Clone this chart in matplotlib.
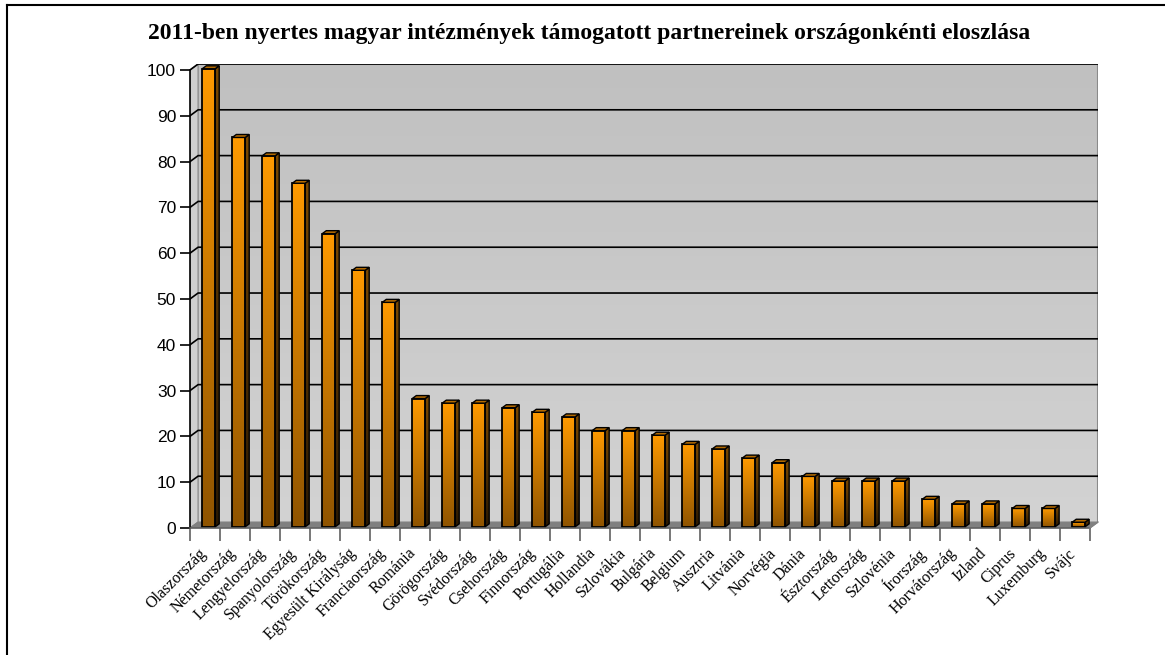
import matplotlib
matplotlib.use("Agg")
import matplotlib.pyplot as plt
import numpy as np
from matplotlib.patches import Polygon, Rectangle
from matplotlib.lines import Line2D
from matplotlib.colors import LinearSegmentedColormap

countries = ["Olaszország", "Németország", "Lengyelország", "Spanyolország", "Törökország",
             "Egyesült Királyság", "Franciaország", "Románia", "Görögország", "Svédország",
             "Csehország", "Finnország", "Portugália", "Hollandia", "Szlovákia", "Bulgária",
             "Belgium", "Ausztria", "Litvánia", "Norvégia", "Dánia", "Észtország", "Lettország",
             "Szlovénia", "Írország", "Horvátország", "Izland", "Ciprus", "Luxemburg", "Svájc"]
values = [100, 85, 81, 75, 64, 56, 49, 28, 27, 27, 26, 25, 24, 21, 21, 20, 18, 17, 15, 14,
          11, 10, 10, 10, 6, 5, 5, 4, 4, 1]
yticks = [0, 10, 20, 30, 40, 50, 60, 70, 80, 90, 100]
title = "2011-ben nyertes magyar intézmények támogatott partnereinek országonkénti eloszlása"

W, H = 1165, 655
fig = plt.figure(figsize=(W / 100, H / 100), dpi=100)
fig.patch.set_facecolor("white")

# figure frame (left and top lines)
fig.add_artist(Line2D([6.5 / W, 6.5 / W], [0, 1 - 5 / H], color="black", lw=1.5))
fig.add_artist(Line2D([6.5 / W, 1], [1 - 5 / H, 1 - 5 / H], color="black", lw=1.5))

n = len(values)
ymax = 100
dx, dy = 0.27, 1.3  # depth offset in data units

left, right, bottom, top = 190, 1098, 528, 64
ax = fig.add_axes([left / W, 1 - bottom / H, (right - left) / W, (bottom - top) / H])
ax.set_xlim(0, n + dx)
ax.set_ylim(0, ymax + dy)
for s in ax.spines.values():
    s.set_visible(False)
ax.set_facecolor("none")

# back wall gradient
grad = np.linspace(0, 1, 256).reshape(-1, 1)
wall_cmap = LinearSegmentedColormap.from_list("wall", ["#d3d3d3", "#c0c0c0"])
ax.imshow(grad, cmap=wall_cmap, origin="lower", aspect="auto",
          extent=[dx, n + dx, dy, ymax + dy], zorder=0)
ax.plot([dx, n + dx, n + dx], [ymax + dy, ymax + dy, dy], color="#8a8a8a", lw=1.5, zorder=1)

# left wall
ax.add_patch(Polygon([(0, 0), (dx, dy), (dx, ymax + dy), (0, ymax)], closed=True,
                     facecolor="#cfcfcf", edgecolor="#808080", lw=0.8, zorder=1))
# floor
ax.add_patch(Polygon([(0, 0), (n, 0), (n + dx, dy), (dx, dy)], closed=True,
                     facecolor="#808080", edgecolor="#808080", lw=0.8, zorder=1))

# gridlines
for v in yticks[1:]:
    ax.plot([0, dx, n + dx], [v, v + dy, v + dy], color="black", lw=1.2, zorder=2)

# bars
front_cmap = LinearSegmentedColormap.from_list("front", ["#8f5400", "#ff9a00"])
side_cmap = LinearSegmentedColormap.from_list("side", ["#2a1800", "#7a4800"])
bw = 0.43
bd = 0.5
f0 = 0.2
for i, v in enumerate(values):
    x0 = i + 0.5 - bw / 2 + 0.07 + f0 * dx
    yb = f0 * dy
    x1 = x0 + bw
    ddx, ddy = bd * dx, bd * dy
    rect = Rectangle((x0, yb), bw, v, facecolor="none", edgecolor="black", lw=1.3, zorder=5)
    ax.add_patch(rect)
    im = ax.imshow(grad, cmap=front_cmap, origin="lower", aspect="auto",
                   extent=[x0, x1, yb, yb + v], zorder=4)
    im.set_clip_path(rect)
    side = Polygon([(x1, yb), (x1 + ddx, yb + ddy), (x1 + ddx, yb + v + ddy), (x1, yb + v)],
                   closed=True, facecolor="none", edgecolor="black", lw=1.0, zorder=5)
    ax.add_patch(side)
    ims = ax.imshow(grad, cmap=side_cmap, origin="lower", aspect="auto",
                    extent=[x1, x1 + ddx, yb, yb + v + ddy], zorder=4)
    ims.set_clip_path(side)
    ax.add_patch(Polygon([(x0, yb + v), (x1, yb + v), (x1 + ddx, yb + v + ddy), (x0 + ddx, yb + v + ddy)],
                         closed=True, facecolor="#b36a00", edgecolor="black", lw=1.0, zorder=5))

# axes lines
ax.plot([0, 0], [0, ymax], color="black", lw=1.2, zorder=6, clip_on=False)
ax.plot([0, n], [0, 0], color="#606060", lw=1.2, zorder=6, clip_on=False)
ax.plot([n, n + dx], [0, dy], color="#808080", lw=1.0, zorder=6, clip_on=False)

ax.set_yticks(yticks)
ax.set_yticklabels([str(t) for t in yticks], fontfamily="Liberation Sans", fontsize=12.5)
ax.set_xticks(np.arange(0, n + 1))
ax.set_xticklabels([])
ax.tick_params(axis="y", length=7, width=1.2, color="black", pad=3)
ax.tick_params(axis="x", length=9, width=1.2, color="#606060")

for i, c in enumerate(countries):
    ax.text(i + 0.45, -5.0, c, rotation=45, rotation_mode="anchor", ha="right", va="center",
            fontfamily="Liberation Serif", fontsize=11.5, zorder=7)

fig.text(589 / W, 1 - 34 / H, title, ha="center", va="center",
         fontfamily="Liberation Serif", fontweight="bold", fontsize=17)

fig.savefig("out.png", dpi=100)
